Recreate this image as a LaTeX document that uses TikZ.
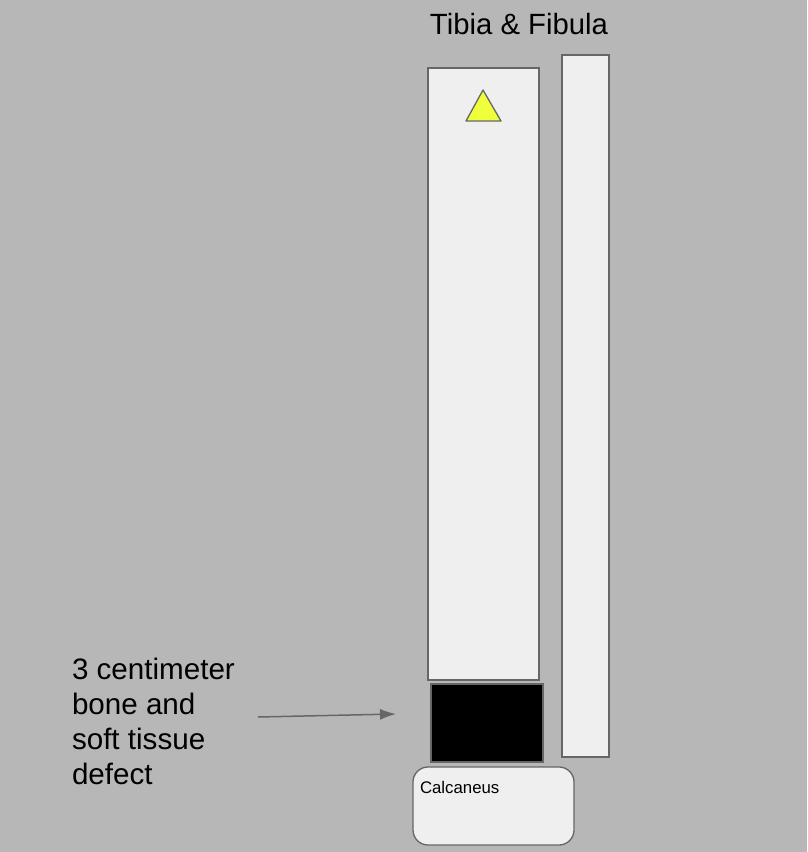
\documentclass[tikz,border=0pt]{standalone}
\usepackage{fontspec}
\setmainfont{Liberation Sans}
\usetikzlibrary{arrows.meta}
\definecolor{bg}{HTML}{B7B7B7}
\definecolor{boxfill}{HTML}{EFEFEF}
\definecolor{edge}{HTML}{666666}
\definecolor{tri}{HTML}{F0FF3C}
\begin{document}
\begin{tikzpicture}[x=1pt,y=-1pt,
  bone/.style={draw=edge,fill=boxfill,line width=1.3pt,anchor=north west,inner sep=0pt,outer sep=0pt},
  lbl/.style={inner sep=0pt,outer sep=0pt,text=black}]
\fill[bg] (0,0) rectangle (807,852);
\useasboundingbox (0,0) rectangle (807,852);
\node[bone,minimum width=111pt,minimum height=612pt] (tibia) at (428,68) {};
\node[bone,minimum width=47pt,minimum height=702pt] (fibula) at (562,55) {};
\node[bone,fill=black,minimum width=112pt,minimum height=78pt] (defect) at (431,684) {};
\node[bone,rounded corners=15pt,minimum width=161pt,minimum height=78pt] (calc) at (413,767) {};
\node[lbl,anchor=north west,font=\fontsize{16.8}{20}\selectfont] (calctext) at (420,781) {Calcaneus};
\draw[edge,line width=1.3pt,fill=tri,line join=round] (483,90) -- (501,121) -- (466,121) -- cycle;
\node[lbl,font=\fontsize{29.3}{34}\selectfont] (title) at (519,24) {Tibia \& Fibula};
\node[lbl,anchor=north west,align=left,font=\fontsize{29.6}{35}\selectfont] (note) at (72,658)
  {3 centimeter\\bone and\\soft tissue\\defect};
\coordinate (tip) at (396,714);
\draw[edge,line width=1.5pt,-{Latex[length=16pt,width=11pt]}] (258,717) -- (tip);
\end{tikzpicture}
\end{document}
